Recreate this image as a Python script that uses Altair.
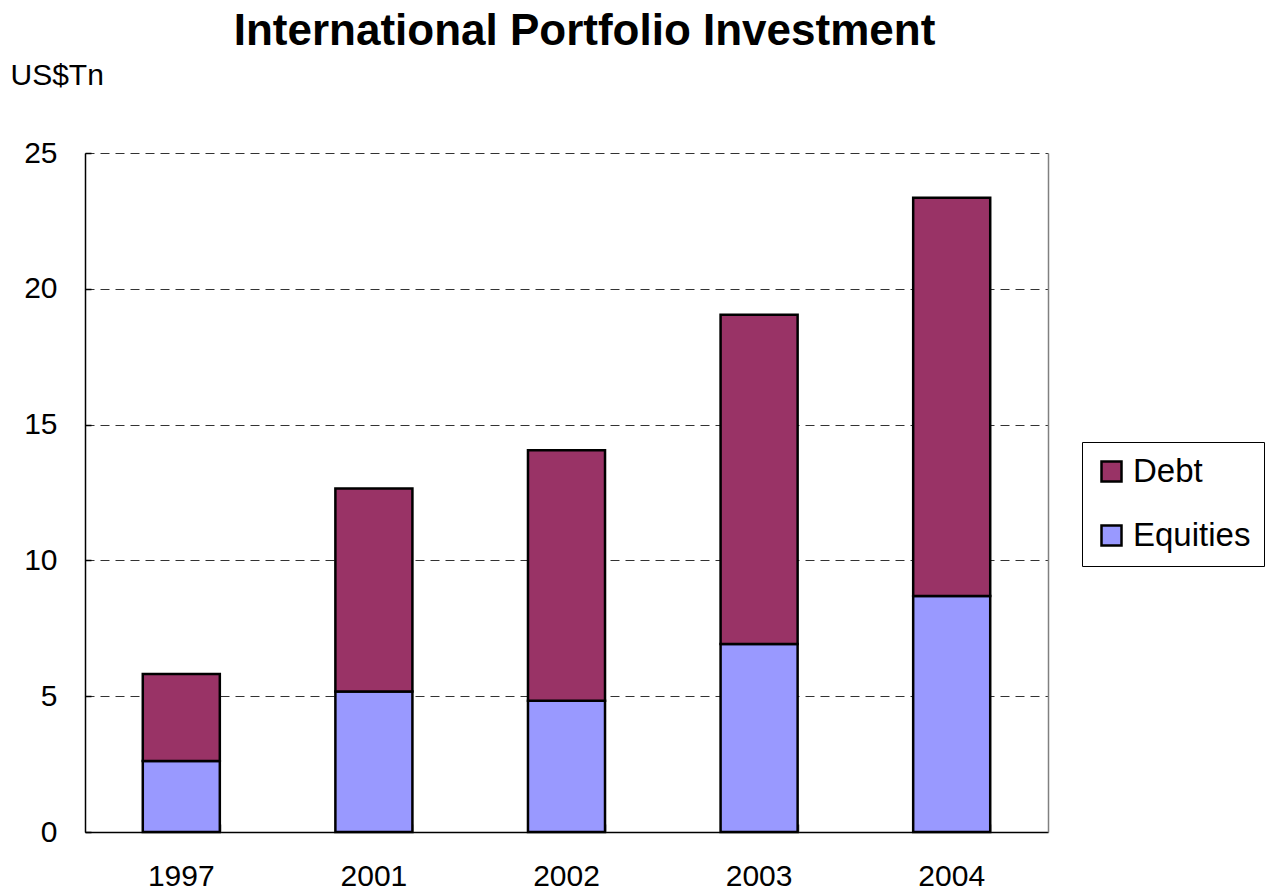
import altair as alt
import pandas as pd

years = ["1997", "2001", "2002", "2003", "2004"]
equities = [2.61, 5.17, 4.83, 6.92, 8.69]
debt = [3.21, 7.48, 9.23, 12.12, 14.66]
series_names = ["Debt", "Equities"]
series_colors = ["#993366", "#9999FF"]
y_ticks = [0, 5, 10, 15, 20, 25]

rows = []
for yr, e, d in zip(years, equities, debt):
    rows.append({"year": yr, "series": "Equities", "value": e, "ord": 0})
    rows.append({"year": yr, "series": "Debt", "value": d, "ord": 1})
df = pd.DataFrame(rows)

FONT = "Liberation Sans"

xscale = alt.Scale(domain=years, paddingInner=0.6, paddingOuter=0.3)
yscale = alt.Scale(domain=[0, 25], nice=False, zero=True)

bars = alt.Chart(df).mark_bar(stroke="black", strokeWidth=2.5, opacity=1).encode(
    x=alt.X("year:N", sort=years, scale=xscale,
            axis=alt.Axis(title=None, labelAngle=0, labelFontSize=30, labelColor="black",
                          labelPadding=29, ticks=False, tickSize=0, domainColor="black",
                          domainWidth=1.5, grid=False)),
    y=alt.Y("value:Q", stack="zero", scale=yscale,
            axis=alt.Axis(values=y_ticks, title="US$Tn", titleAngle=0, titleX=-75, titleY=-78,
                          titleAlign="left", titleBaseline="middle", titleFontSize=30,
                          titleFontWeight="normal", titleColor="black",
                          labelFontSize=30, labelColor="black", labelPadding=28,
                          ticks=False, tickSize=0, grid=True, gridDash=[9, 6],
                          gridColor="#333333", gridWidth=1, domainColor="black",
                          domainWidth=1.5)),
    color=alt.Color("series:N", scale=alt.Scale(domain=series_names, range=series_colors),
                    legend=alt.Legend(title=None, orient="none", legendX=997, legendY=289,
                                      labelFontSize=33, labelColor="black", symbolType="square",
                                      symbolSize=400, symbolStrokeWidth=2.5,
                                      symbolStrokeColor="black", symbolOpacity=1,
                                      strokeColor="black", fillColor="white", padding=13,
                                      rowPadding=30, labelOffset=5)),
    order=alt.Order("ord:Q", sort="ascending"),
)

tick_layer = alt.Chart(df).mark_bar(opacity=0).encode(
    x=alt.X("year:N", sort=years, scale=xscale,
            axis=alt.Axis(orient="bottom", offset=-8, tickSize=8, tickBand="extent",
                          labels=False, domain=False, grid=False, title=None,
                          tickColor="#555555", tickWidth=1.5)),
    y=alt.Y("value:Q", scale=yscale,
            axis=alt.Axis(orient="left", offset=-6, tickSize=6, values=y_ticks,
                          labels=False, domain=False, grid=False, title=None,
                          tickColor="black", tickWidth=1.5)),
)

border_layer = alt.Chart(df).mark_bar(opacity=0).encode(
    x=alt.X("year:N", sort=years, scale=xscale, axis=None),
    y=alt.Y("value:Q", scale=yscale,
            axis=alt.Axis(orient="right", labels=False, ticks=False, grid=False, title=None,
                          domainColor="#808080", domainWidth=1.5)),
)

chart = alt.layer(bars, tick_layer, border_layer).resolve_axis(
    x="independent", y="independent"
).properties(
    width=963,
    height=679,
    padding={"left": 77, "top": 145, "right": 219, "bottom": 60},
    autosize=alt.AutoSizeParams(type="none"),
    background="white",
    title=alt.TitleParams("International Portfolio Investment", fontSize=44,
                          fontWeight="bold", font=FONT, color="black",
                          anchor="middle", dx=18, offset=6),
).configure(font=FONT).configure_view(stroke=None)

chart.save("out.html", embed_options={"renderer": "svg", "actions": False})
